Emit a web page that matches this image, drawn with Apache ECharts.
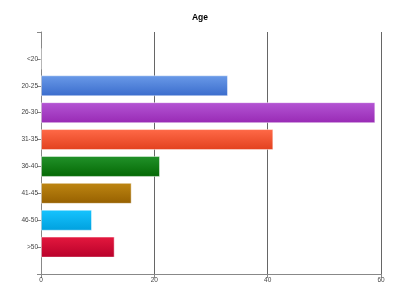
<!DOCTYPE html>
<html><head><meta charset="utf-8">
<script src="https://cdn.jsdelivr.net/npm/echarts@6/dist/echarts.min.js"></script>
<style>html,body{margin:0;padding:0;background:#fff}#c{width:400px;height:300px}</style>
</head><body><div id="c"></div>
<script>
var categories = ['<20','20-25','26-30','31-35','36-40','41-45','46-50','>50'];
var values = [0, 33, 59, 41, 21, 16, 9, 13];
var xTicks = [0, 20, 40, 60];
var topColors = ['#6a9ae8','#6a9ae8','#b455d4','#ff6a48','#22922a','#be8612','#16c4ff','#e4183e'];
var bottomColors = ['#3a6ccc','#3a6ccc','#982ab4','#e2401e','#046804','#966000','#00a0de','#b8002a'];

var chart = echarts.init(document.getElementById('c'), null, {renderer:'canvas'});
var data = values.map(function(v,i){
  return {
    value: v,
    itemStyle:{
      color: new echarts.graphic.LinearGradient(0,0,0,1,[{offset:0,color:topColors[i]},{offset:1,color:bottomColors[i]}]),
      borderColor:'rgba(255,255,255,0.45)', borderWidth:1
    }
  };
});
chart.setOption({
  animation:false,
  title:{text:'Age', left:'center', top:8, textStyle:{fontFamily:'Liberation Sans', fontSize:8.5, fontWeight:'bold', color:'#000'}},
  grid:{left:41, right:19, top:32, bottom:26},
  xAxis:{type:'value', min:xTicks[0], max:xTicks[xTicks.length-1], interval:20,
    axisLine:{show:true, lineStyle:{color:'#888'}},
    axisTick:{show:true, length:4, lineStyle:{color:'#888'}},
    axisLabel:{fontFamily:'Liberation Sans', fontSize:6.5, color:'#444', margin:3},
    splitLine:{show:true, lineStyle:{color:'#666', width:1}}},
  yAxis:{type:'category', data:categories, boundaryGap:false, min:-1, max:categories.length, inverse:true,
    axisLine:{show:true, lineStyle:{color:'#888'}},
    axisTick:{show:true, length:4, interval:0, lineStyle:{color:'#888'}},
    axisLabel:{fontFamily:'Liberation Sans', fontSize:6.5, color:'#444', margin:3, interval:0,
      formatter:function(v){return v==null?'':v;}},
    splitLine:{show:false}},
  series:[{type:'bar', barWidth:21, data:data}]
});
</script></body></html>
